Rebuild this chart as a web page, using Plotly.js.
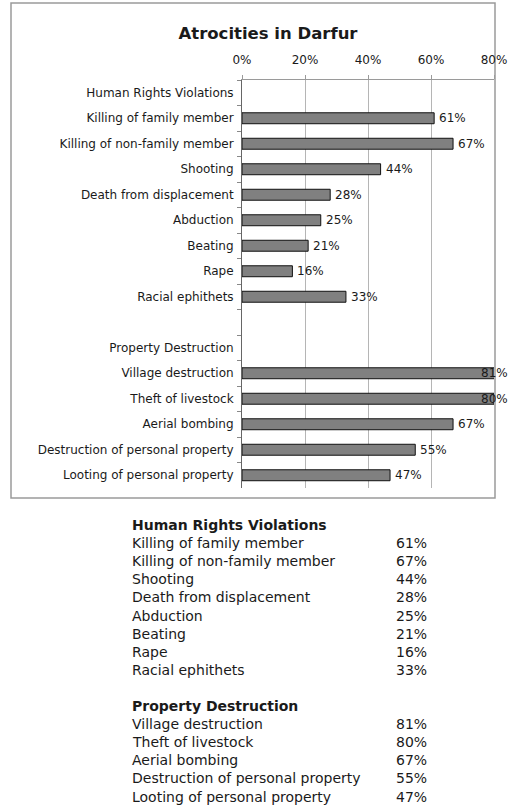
<!DOCTYPE html>
<html>
<head>
<meta charset="utf-8">
<script src="https://cdn.plot.ly/plotly-3.0.1.min.js"></script>
<style>html,body{margin:0;padding:0;background:#fff;}#chart{width:511px;height:807px;}</style>
</head>
<body>
<div id="chart"></div>
<script>
const chartTitle = "Atrocities in Darfur";
const group1Title = "Human Rights Violations";
const group1Labels = ["Killing of family member","Killing of non-family member","Shooting","Death from displacement","Abduction","Beating","Rape","Racial ephithets"];
const group1Values = [61, 67, 44, 28, 25, 21, 16, 33];
const group2Title = "Property Destruction";
const group2Labels = ["Village destruction","Theft of livestock","Aerial bombing","Destruction of personal property","Looting of personal property"];
const group2Values = [81, 80, 67, 55, 47];
const xTickValues = [0, 20, 40, 60, 80];

const W = 511, H = 807;
const PL = 242, PR = 494, PT = 80, PB = 488;
const XMAX = 80;
const FONT = "Verdana, 'DejaVu Sans', sans-serif";
const TXT = "#1a1a1a";
const LABEL_SIZE = 12;

// categories: header, items, blank, header, items
const cats = [group1Title].concat(group1Labels, [" "], [group2Title], group2Labels);
const vals = [null].concat(group1Values, [null], [null], group2Values);

function px(x) { return (x - PL) / (PR - PL); }
function py(y) { return (PB - y) / (PB - PT); }

const trace = {
  type: "bar",
  orientation: "h",
  y: cats,
  x: vals,
  width: 0.43,
  marker: { color: "#808080", line: { color: "#111", width: 1 } },
  cliponaxis: false,
  hoverinfo: "none"
};

const annotations = [];

// value labels next to bars; kept inside the chart's width like the original
const labelW = 26; // approx width of "xx%" at this size
cats.forEach((c, i) => {
  const v = vals[i];
  if (v == null) return;
  const endPx = PL + v / XMAX * (PR - PL);
  if (endPx + 4 + labelW > W - 1) {
    annotations.push({
      xref: "paper", yref: "y", x: px(W - 1), y: c,
      xanchor: "right", yanchor: "middle", showarrow: false,
      text: v + "%", font: { family: FONT, size: LABEL_SIZE, color: TXT }
    });
  } else {
    annotations.push({
      xref: "x", yref: "y", x: v, y: c, xshift: 3,
      xanchor: "left", yanchor: "middle", showarrow: false,
      text: v + "%", font: { family: FONT, size: LABEL_SIZE, color: TXT }
    });
  }
});

// data table below the chart
const tableRows = [];
tableRows.push({ label: group1Title, value: "", bold: true });
group1Labels.forEach((l, i) => tableRows.push({ label: l, value: group1Values[i] + "%" }));
tableRows.push({ label: "", value: "" });
tableRows.push({ label: group2Title, value: "", bold: true });
group2Labels.forEach((l, i) => tableRows.push({ label: l, value: group2Values[i] + "%" }));

const rowY0 = 525, rowStep = 18.1, colLabelX = 130, colValueX = 394;
tableRows.forEach((r, i) => {
  const yy = rowY0 + rowStep * i;
  if (r.label) {
    annotations.push({
      xref: "paper", yref: "paper", x: px(colLabelX), y: py(yy),
      xanchor: "left", yanchor: "middle", showarrow: false,
      text: r.bold ? "<b>" + r.label + "</b>" : r.label,
      font: { family: FONT, size: 14, color: TXT }
    });
  }
  if (r.value) {
    annotations.push({
      xref: "paper", yref: "paper", x: px(colValueX), y: py(yy),
      xanchor: "left", yanchor: "middle", showarrow: false,
      text: r.value,
      font: { family: FONT, size: 14, color: TXT }
    });
  }
});

const layout = {
  width: W, height: H,
  margin: { l: PL, r: W - PR, t: PT, b: H - PB, pad: 0 },
  paper_bgcolor: "#fff",
  plot_bgcolor: "#fff",
  showlegend: false,
  title: {
    text: "<b>" + chartTitle + "</b>",
    x: 268 / W, xanchor: "center",
    y: 1 - 33 / H, yanchor: "middle",
    font: { family: FONT, size: 16.5, color: TXT }
  },
  xaxis: {
    side: "top",
    range: [0, XMAX],
    tickvals: xTickValues,
    ticktext: xTickValues.map(v => v + "%"),
    showgrid: true, gridcolor: "#b5b5b5", gridwidth: 1,
    zeroline: false,
    showline: true, linecolor: "#9a9a9a", linewidth: 1,
    ticks: "outside", ticklen: 4, tickcolor: "#9a9a9a",
    tickfont: { family: FONT, size: LABEL_SIZE, color: TXT },
    ticklabelstandoff: 6,
    fixedrange: true
  },
  yaxis: {
    type: "category",
    autorange: "reversed",
    showgrid: false,
    showline: true, linecolor: "#666", linewidth: 1,
    ticks: "outside", tickson: "boundaries", ticklen: 4, tickcolor: "#888",
    tickfont: { family: FONT, size: LABEL_SIZE, color: TXT },
    ticklabelstandoff: 5,
    fixedrange: true
  },
  annotations: annotations,
  shapes: [{
    type: "rect", xref: "paper", yref: "paper",
    x0: px(11), x1: px(495), y0: py(498), y1: py(3),
    line: { color: "#9a9a9a", width: 1.5 }, fillcolor: "rgba(0,0,0,0)", layer: "below"
  }]
};

Plotly.newPlot("chart", [trace], layout, { displayModeBar: false, staticPlot: true });
</script>
</body>
</html>
